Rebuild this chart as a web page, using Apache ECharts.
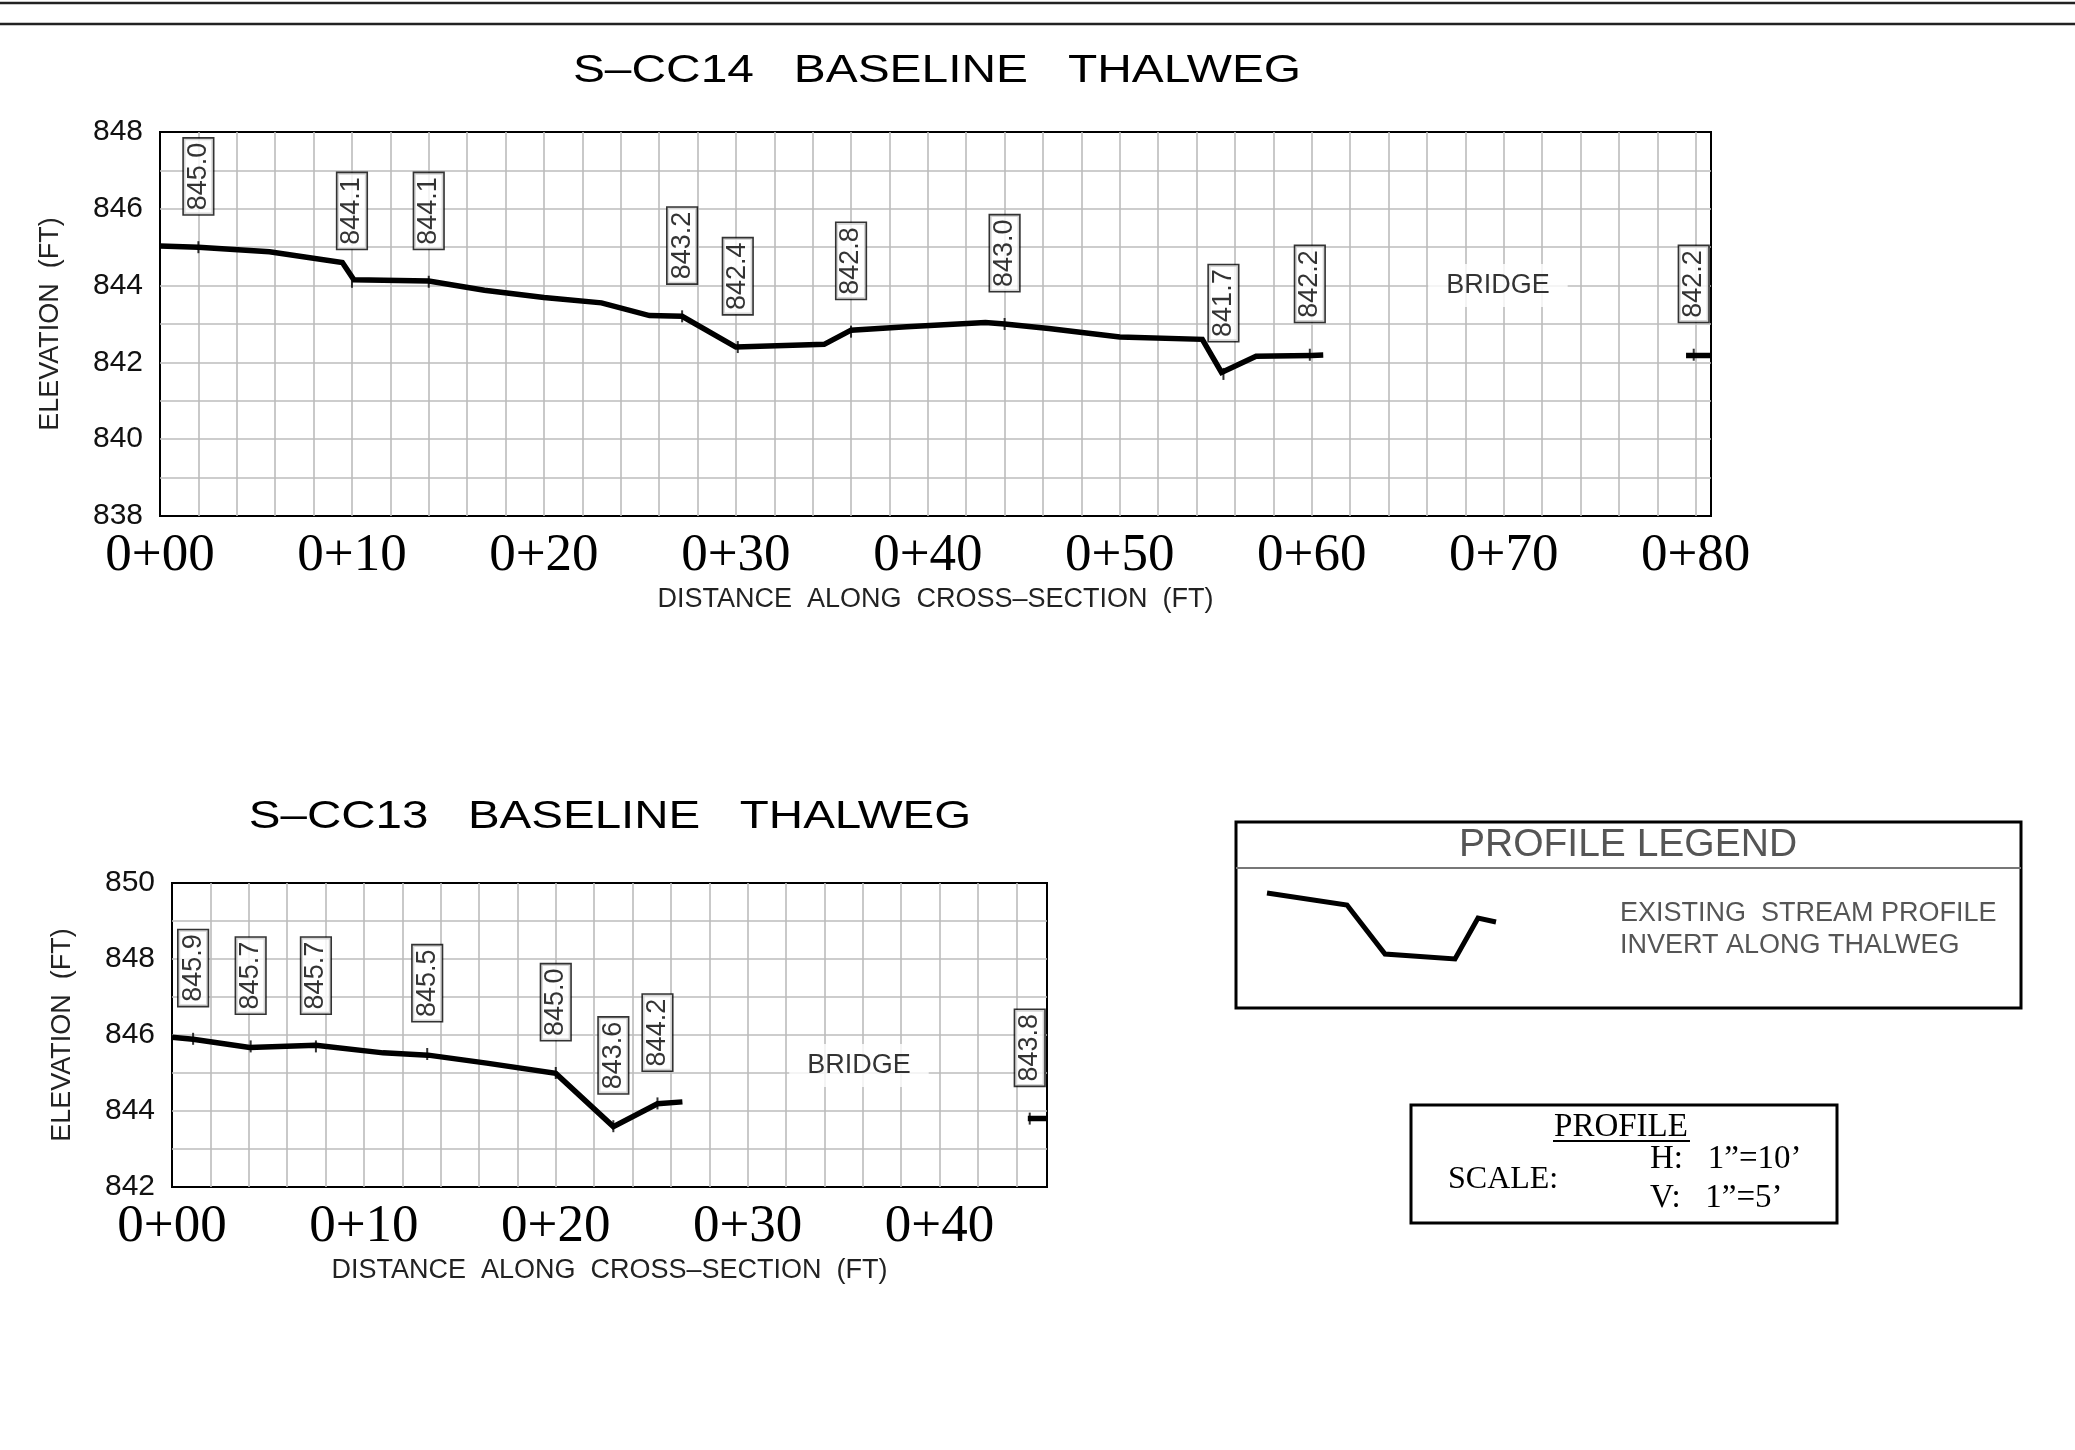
<!DOCTYPE html>
<html>
<head>
<meta charset="utf-8">
<script src="https://cdn.jsdelivr.net/npm/echarts@6/dist/echarts.min.js"></script>
<style>
html,body{margin:0;padding:0;background:#fff;}
#c{width:2075px;height:1450px;}
</style>
</head>
<body>
<div id="c"></div>
<script>
// ---------- S-CC14 (upper profile) ----------
const cc14Dist = [0, 2, 5.7, 9.5, 10.1, 14, 16.9, 20, 23.0, 25.5, 27.2, 30.0, 33.4, 34.6, 36.0, 38.9, 43.0, 44.0, 46.3, 50.0, 54.3, 55.3, 57.1, 60.0, 60.6];
const cc14Elev = [845.03, 845.0, 844.88, 844.6, 844.15, 844.12, 843.88, 843.69, 843.55, 843.22, 843.2, 842.4, 842.45, 842.47, 842.84, 842.93, 843.04, 843.0, 842.88, 842.66, 842.6, 841.74, 842.16, 842.18, 842.19];
const cc14EastDist = [79.5, 80.8];
const cc14EastElev = [842.18, 842.18];
const cc14LabelDist = [2, 10, 14, 27.2, 30.1, 36.0, 44.0, 55.4, 59.9, 79.9];
const cc14LabelText = ['845.0', '844.1', '844.1', '843.2', '842.4', '842.8', '843.0', '841.7', '842.2', '842.2'];
const cc14BridgeNote = [69.7, 844.0];
const cc14XRange = [0, 80.8];
const cc14YRange = [838, 848];

// ---------- S-CC13 (lower profile) ----------
const cc13Dist = [0, 1.1, 4.05, 7.5, 11.0, 13.35, 16.4, 20.0, 23.0, 25.3, 26.6];
const cc13Elev = [845.94, 845.89, 845.67, 845.73, 845.53, 845.47, 845.26, 844.99, 843.59, 844.19, 844.24];
const cc13EastDist = [44.6, 45.6];
const cc13EastElev = [843.8, 843.8];
const cc13LabelDist = [1.1, 4.1, 7.5, 13.3, 20.0, 23.0, 25.3, 44.7];
const cc13LabelText = ['845.9', '845.7', '845.7', '845.5', '845.0', '843.6', '844.2', '843.8'];
const cc13BridgeNote = [35.8, 845.2];
const cc13XRange = [0, 45.6];
const cc13YRange = [842, 850];

// ---------- text ----------
const titleTop = 'S–CC14   BASELINE   THALWEG';
const titleBottom = 'S–CC13   BASELINE   THALWEG';
const xName = 'DISTANCE  ALONG  CROSS–SECTION  (FT)';
const yName = 'ELEVATION  (FT)';
const bridgeText = 'BRIDGE';
const legendTitle = 'PROFILE LEGEND';
const legendLines = ['EXISTING  STREAM PROFILE', 'INVERT ALONG THALWEG'];
const scaleTitle = 'PROFILE';
const scaleLabel = 'SCALE:';
const scaleH = 'H:   1\u201D=10\u2019';
const scaleV = 'V:   1\u201D=5\u2019';

const zip = (a, b) => a.map((v, i) => [v, b[i]]);
const SANS = "'Liberation Sans', Arial, sans-serif";
const SERIF = "'Liberation Serif', 'Times New Roman', serif";

function xAxisFor(idx, range) {
  return {
    gridIndex: idx, type: 'value', min: range[0], max: range[1], interval: 2,
    axisLine: {show: false}, axisTick: {show: false},
    splitLine: {show: true, showMinLine: false, showMaxLine: false, lineStyle: {color: '#bcbcbc', width: 1.6}},
    axisLabel: {
      margin: 14, fontFamily: SERIF, fontSize: 53, color: '#000',
      formatter: v => (Math.abs(v % 10) < 1e-6 ? '0+' + (v < 10 ? '0' + v : v) : '')
    },
    name: xName, nameLocation: 'middle', nameGap: 70,
    nameTextStyle: {fontFamily: SANS, fontSize: 27, color: '#222'}
  };
}
function yAxisFor(idx, range) {
  return {
    gridIndex: idx, type: 'value', min: range[0], max: range[1], interval: 1,
    axisLine: {show: false}, axisTick: {show: false},
    splitLine: {show: true, showMinLine: false, showMaxLine: false, lineStyle: {color: '#bcbcbc', width: 1.6}},
    axisLabel: {
      margin: 17, fontFamily: SANS, fontSize: 30, color: '#111',
      formatter: v => (Math.abs(v % 2) < 1e-6 ? String(v) : '')
    },
    name: yName, nameLocation: 'middle', nameGap: 96, nameRotate: 90,
    nameTextStyle: {fontFamily: SANS, fontSize: 27, color: '#222'}
  };
}
function profileSeries(idx, dist, elev) {
  return {
    type: 'line', xAxisIndex: idx, yAxisIndex: idx, data: zip(dist, elev),
    symbol: 'none', silent: true, z: 3,
    lineStyle: {color: '#000', width: 5.5, join: 'miter'}
  };
}
function labelSeries(idx, dist, text) {
  return {
    type: 'scatter', xAxisIndex: idx, yAxisIndex: idx,
    data: zip(dist, text.map(parseFloat)),
    symbol: 'rect', symbolSize: [2, 12], itemStyle: {color: '#000'}, silent: true, z: 4,
    label: {
      show: true, position: 'top', distance: 27, rotate: 90, align: 'left', verticalAlign: 'middle',
      formatter: p => text[p.dataIndex],
      fontFamily: SANS, fontSize: 27, lineHeight: 21, color: '#000',
      backgroundColor: '#fff', borderColor: '#000', borderWidth: 1.6, padding: [4, 4, 4, 4]
    }
  };
}
function bridgeSeries(idx, pt) {
  return {
    type: 'scatter', xAxisIndex: idx, yAxisIndex: idx, data: [pt],
    symbolSize: 0, silent: true, z: 2,
    label: {
      show: true, position: 'inside', formatter: bridgeText,
      fontFamily: SANS, fontSize: 27, color: '#000',
      backgroundColor: '#fff', padding: [8, 18]
    }
  };
}

const chart = echarts.init(document.getElementById('c'), null, {renderer: 'canvas', width: 2075, height: 1450});
chart.setOption({
  backgroundColor: '#fff',
  animation: false,
  grid: [
    {left: 160, top: 132, width: 1551, height: 384, show: true, borderColor: '#000', borderWidth: 2, backgroundColor: 'transparent'},
    {left: 172, top: 883, width: 875, height: 304, show: true, borderColor: '#000', borderWidth: 2, backgroundColor: 'transparent'}
  ],
  xAxis: [xAxisFor(0, cc14XRange), xAxisFor(1, cc13XRange)],
  yAxis: [yAxisFor(0, cc14YRange), yAxisFor(1, cc13YRange)],
  series: [
    profileSeries(0, cc14Dist, cc14Elev),
    profileSeries(0, cc14EastDist, cc14EastElev),
    labelSeries(0, cc14LabelDist, cc14LabelText),
    bridgeSeries(0, cc14BridgeNote),
    profileSeries(1, cc13Dist, cc13Elev),
    profileSeries(1, cc13EastDist, cc13EastElev),
    labelSeries(1, cc13LabelDist, cc13LabelText),
    bridgeSeries(1, cc13BridgeNote)
  ],
  graphic: [
    // sheet border lines
    {type: 'line', shape: {x1: 0, y1: 3, x2: 2075, y2: 3}, style: {stroke: '#222', lineWidth: 2.5}},
    {type: 'line', shape: {x1: 0, y1: 24, x2: 2075, y2: 24}, style: {stroke: '#222', lineWidth: 2.5}},
    // titles
    {type: 'text', x: 937, y: 72, scaleX: 1.26,
     style: {text: titleTop, fontFamily: SANS, fontSize: 38, fill: '#000', align: 'center', verticalAlign: 'middle'}},
    {type: 'text', x: 610, y: 818, scaleX: 1.25,
     style: {text: titleBottom, fontFamily: SANS, fontSize: 38, fill: '#000', align: 'center', verticalAlign: 'middle'}},
    // legend box
    {type: 'rect', shape: {x: 1236, y: 822, width: 785, height: 186}, style: {fill: 'none', stroke: '#000', lineWidth: 3}},
    {type: 'line', shape: {x1: 1236, y1: 868, x2: 2021, y2: 868}, style: {stroke: '#777', lineWidth: 2}},
    {type: 'text', x: 1628, y: 845,
     style: {text: legendTitle, fontFamily: SANS, fontSize: 39, fill: '#555', align: 'center', verticalAlign: 'middle'}},
    {type: 'polyline', shape: {points: [[1267, 893], [1347, 905], [1385, 954], [1455, 959], [1478, 918], [1496, 922]]},
     style: {stroke: '#000', lineWidth: 5, fill: 'none'}},
    {type: 'text', x: 1620, y: 914,
     style: {text: legendLines[0], fontFamily: SANS, fontSize: 27, fill: '#555', align: 'left', verticalAlign: 'middle'}},
    {type: 'text', x: 1620, y: 946,
     style: {text: legendLines[1], fontFamily: SANS, fontSize: 27, fill: '#555', align: 'left', verticalAlign: 'middle'}},
    // scale box
    {type: 'rect', shape: {x: 1411, y: 1105, width: 426, height: 118}, style: {fill: 'none', stroke: '#000', lineWidth: 3}},
    {type: 'text', x: 1621, y: 1127,
     style: {text: scaleTitle, fontFamily: SERIF, fontSize: 33, fill: '#000', align: 'center', verticalAlign: 'middle'}},
    {type: 'line', shape: {x1: 1553, y1: 1141, x2: 1690, y2: 1141}, style: {stroke: '#000', lineWidth: 2}},
    {type: 'text', x: 1448, y: 1180,
     style: {text: scaleLabel, fontFamily: SERIF, fontSize: 32, fill: '#000', align: 'left', verticalAlign: 'middle'}},
    {type: 'text', x: 1650, y: 1159,
     style: {text: scaleH, fontFamily: SERIF, fontSize: 33, fill: '#000', align: 'left', verticalAlign: 'middle'}},
    {type: 'text', x: 1650, y: 1198,
     style: {text: scaleV, fontFamily: SERIF, fontSize: 33, fill: '#000', align: 'left', verticalAlign: 'middle'}}
  ]
});
</script>
</body>
</html>
